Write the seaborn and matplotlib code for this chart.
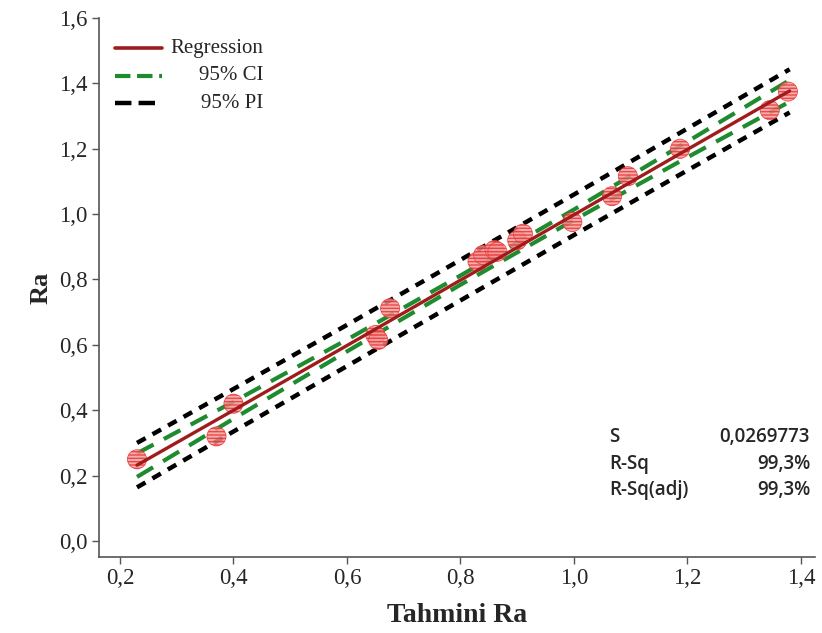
import matplotlib
matplotlib.use("Agg")
import matplotlib.pyplot as plt
import seaborn as sns
import pandas as pd
from matplotlib.lines import Line2D

# ---- data ----
predicted = [0.23, 0.37, 0.40, 0.65, 0.655, 0.676, 0.83, 0.84, 0.86, 0.865, 0.90, 0.91, 0.997, 1.067, 1.095, 1.187, 1.345, 1.377]
actual    = [0.25, 0.32, 0.42, 0.63, 0.615, 0.712, 0.855, 0.875, 0.89, 0.885, 0.92, 0.94, 0.976, 1.055, 1.116, 1.20, 1.318, 1.375]

band_x = [0.23, 0.40, 0.60, 0.80, 1.00, 1.20, 1.38]
fit_y  = [0.232, 0.400, 0.598, 0.798, 0.998, 1.198, 1.377]
ci_lo  = [0.196, 0.374, 0.580, 0.784, 0.982, 1.174, 1.344]
ci_hi  = [0.268, 0.426, 0.616, 0.812, 1.014, 1.222, 1.410]
pi_lo  = [0.164, 0.335, 0.535, 0.736, 0.936, 1.134, 1.311]
pi_hi  = [0.300, 0.465, 0.661, 0.860, 1.060, 1.262, 1.443]

x_ticks = [0.2, 0.4, 0.6, 0.8, 1.0, 1.2, 1.4]
y_ticks = [0.0, 0.2, 0.4, 0.6, 0.8, 1.0, 1.2, 1.4, 1.6]
legend_labels = ["Regression", "95% CI", "95% PI"]
stat_names = ["S", "R-Sq", "R-Sq(adj)"]
stat_values = ["0,0269773", "99,3%", "99,3%"]

sns.set_style("white")
plt.rcParams['font.family'] = ['Liberation Serif', 'DejaVu Serif']

W, H = 822, 633
fig = plt.figure(figsize=(W/100, H/100), dpi=100)
ax = fig.add_axes([99/W, 76/H, (815-99)/W, (557-18)/H])

red = "#a01c1c"
green = "#1e8c2e"
pi_style = (0, (2.2, 1.8))
ci_style = (0, (4.5, 2.8))

bands = pd.DataFrame({"x": band_x, "fit": fit_y, "ci_lo": ci_lo, "ci_hi": ci_hi,
                      "pi_lo": pi_lo, "pi_hi": pi_hi})
pts = pd.DataFrame({"pred": predicted, "act": actual})

for col in ["pi_lo", "pi_hi"]:
    sns.lineplot(data=bands, x="x", y=col, ax=ax, color="black", lw=3.2,
                 linestyle=pi_style, zorder=2)
for col in ["ci_lo", "ci_hi"]:
    sns.lineplot(data=bands, x="x", y=col, ax=ax, color=green, lw=3.0,
                 linestyle=ci_style, zorder=2)

sns.scatterplot(data=pts, x="pred", y="act", ax=ax, s=190, marker="o",
                facecolor="#f49a9a", edgecolor="#e83030", linewidth=0.6,
                hatch="-----", alpha=0.8, zorder=3)
sns.lineplot(data=bands, x="x", y="fit", ax=ax, color=red, lw=2.4, zorder=4)

ax.set_xlim(0.163, 1.4247)
ax.set_ylim(-0.049, 1.6)
ax.set_xticks(x_ticks)
ax.set_xticklabels([f"{v:.1f}".replace(".", ",") for v in x_ticks])
ax.set_yticks(y_ticks)
ax.set_yticklabels([f"{v:.1f}".replace(".", ",") for v in y_ticks])
ax.tick_params(axis="both", direction="out", length=5, width=1, color="#555555",
               labelsize=16.5, pad=3, bottom=True, left=True)
for s in ["top", "right"]:
    ax.spines[s].set_visible(False)
for s in ["left", "bottom"]:
    ax.spines[s].set_color("#555555")
    ax.spines[s].set_linewidth(1.2)

ax.set_xlabel("Tahmini Ra", fontsize=20, fontweight="bold", labelpad=10)
ax.set_ylabel("Ra", fontsize=19, fontweight="bold", labelpad=5)

# legend: line handles with right-aligned labels, as in the reference
handles = [Line2D([], [], color=red, lw=2.6),
           Line2D([], [], color=green, lw=3.0, linestyle=ci_style),
           Line2D([], [], color="black", lw=3.2, linestyle=pi_style)]
for i, (h, lab) in enumerate(zip(handles, legend_labels)):
    yy = (48 + i * 27.5)
    ax.add_line(Line2D([115/W, 162/W], [1 - yy/H, 1 - yy/H], transform=fig.transFigure,
                       color=h.get_color(), lw=h.get_linewidth(),
                       linestyle=h.get_linestyle(), clip_on=False))
    fig.text(263/W, 1 - yy/H, lab, fontsize=15, ha="right", va="center")

for i, (n, v) in enumerate(zip(stat_names, stat_values)):
    yy = (H - 437 - i * 26.5) / H
    fig.text(609/W, yy, n, fontsize=13.5, family=["Open Sans", "DejaVu Sans"],
             weight=600, ha="left", va="center")
    fig.text(810/W, yy, v, fontsize=13.5, family=["Open Sans", "DejaVu Sans"],
             weight=600, ha="right", va="center")

fig.savefig("out.png", dpi=100)
